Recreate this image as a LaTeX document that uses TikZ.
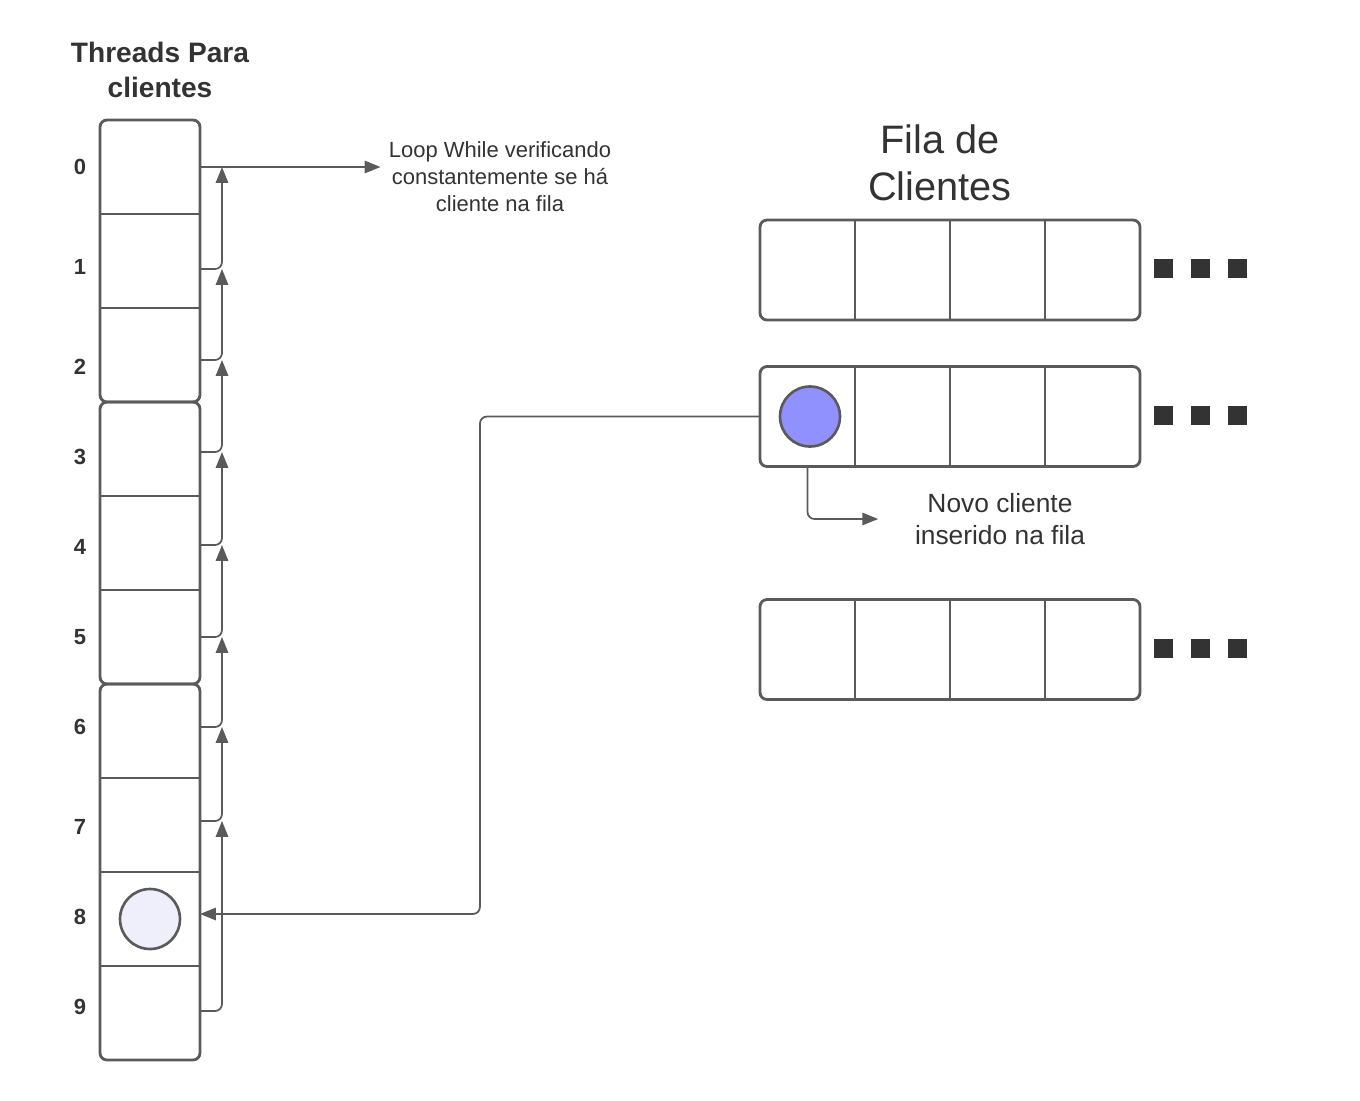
\documentclass[tikz,border=0pt]{standalone}
\usepackage{fontspec}
\setmainfont{Liberation Sans}
\usetikzlibrary{arrows.meta, calc, fit, positioning}
\definecolor{linegray}{HTML}{5A5A5A}
\definecolor{txtgray}{HTML}{333333}
\definecolor{clientblue}{HTML}{9090FF}
\definecolor{clientpale}{HTML}{EFEFFC}
\tikzset{
  cell/.style={rectangle, minimum width=2cm, minimum height=1.88cm, inner sep=0pt, outer sep=0pt},
  qcell/.style={rectangle, minimum width=1.9cm, minimum height=2cm, inner sep=0pt, outer sep=0pt},
  grp/.style={draw=linegray, line width=1.6pt, rounded corners=4pt, inner sep=0pt},
  divline/.style={draw=linegray, line width=1.4pt},
  conn/.style={draw=linegray, line width=1pt, rounded corners=4pt, -{Triangle[length=9pt,width=7pt]}},
  client/.style={circle, draw=linegray, line width=1.5pt, minimum size=1.2cm, inner sep=0pt},
  dot/.style={rectangle, fill=txtgray, minimum size=0.38cm, inner sep=0pt},
  num/.style={text=txtgray, font=\fontsize{12.5}{15}\selectfont\bfseries},
  txt/.style={text=txtgray, align=center, inner sep=0pt},
}

\begin{document}
\begin{tikzpicture}[x=0.02cm, y=-0.02cm]
\useasboundingbox (0,0) rectangle (1360,1100);

\node[txt, font=\fontsize{16}{19.8}\selectfont\bfseries] (title) at (160,70) {Threads Para\\clientes};
\node[txt, font=\fontsize{22.6}{26.6}\selectfont] (fila) at (940,163) {Fila de\\Clientes};
\node[txt, font=\fontsize{12.5}{15.3}\selectfont] (loop) at (500,177) {Loop While verificando\\constantemente se há\\cliente na fila};

\foreach \i in {0,...,9}
  \node[cell] (t\i) at (150,{167+94*\i}) {};
\node[grp, fit=(t0)(t2)] (g1) {};
\node[grp, fit=(t3)(t5)] (g2) {};
\node[grp, fit=(t6)(t9)] (g3) {};
\foreach \i in {1,2,4,5,7,8,9}
  \draw[divline] (t\i.north west) -- (t\i.north east);

\foreach \i/\y/\ly in {0/167/167, 1/269/267, 2/360/367, 3/452/457, 4/545/547,
                       5/637/637, 6/727/727, 7/821/827, 8/914/917, 9/1011/1007} {
  \coordinate (p\i) at (200,\y);
  \coordinate (q\i) at (222,\y);
  \node[num] (n\i) at (80,\ly) {\i};
}
\foreach \i/\j in {1/0,2/1,3/2,4/3,5/4,6/5,7/6,9/7}
  \draw[conn] (p\i) -| (q\j);
\draw[conn] (p0) -- ([xshift=-0.16cm]loop.west |- p0);

\foreach \r/\y in {1/270, 2/416.5, 3/649.5} {
  \foreach \c in {1,...,4}
    \node[qcell] (f\r-\c) at ({760+95*\c-47.5},\y) {};
  \node[grp, fit=(f\r-1)(f\r-4)] (row\r) {};
  \foreach \c in {2,3,4}
    \draw[divline] (f\r-\c.north west) -- (f\r-\c.south west);
  \foreach \k in {0,1,2}
    \node[dot] (d\r-\k) at ({1163+37*\k},{\y-1.5}) {};
}

\node[client, fill=clientblue, xshift=0.05cm] (newc) at (f2-1) {};
\node[client, fill=clientpale] (oldc) at (t8) {};

\node[txt, font=\fontsize{15}{18}\selectfont] (novo) at (1000,519) {Novo cliente\\inserido na fila};
\draw[conn] (f2-1.south) |- ([xshift=-0.73cm]novo.west);
\draw[conn] (f2-1.west) -| ([xshift=5.6cm]p8) -- (p8);

\end{tikzpicture}
\end{document}
